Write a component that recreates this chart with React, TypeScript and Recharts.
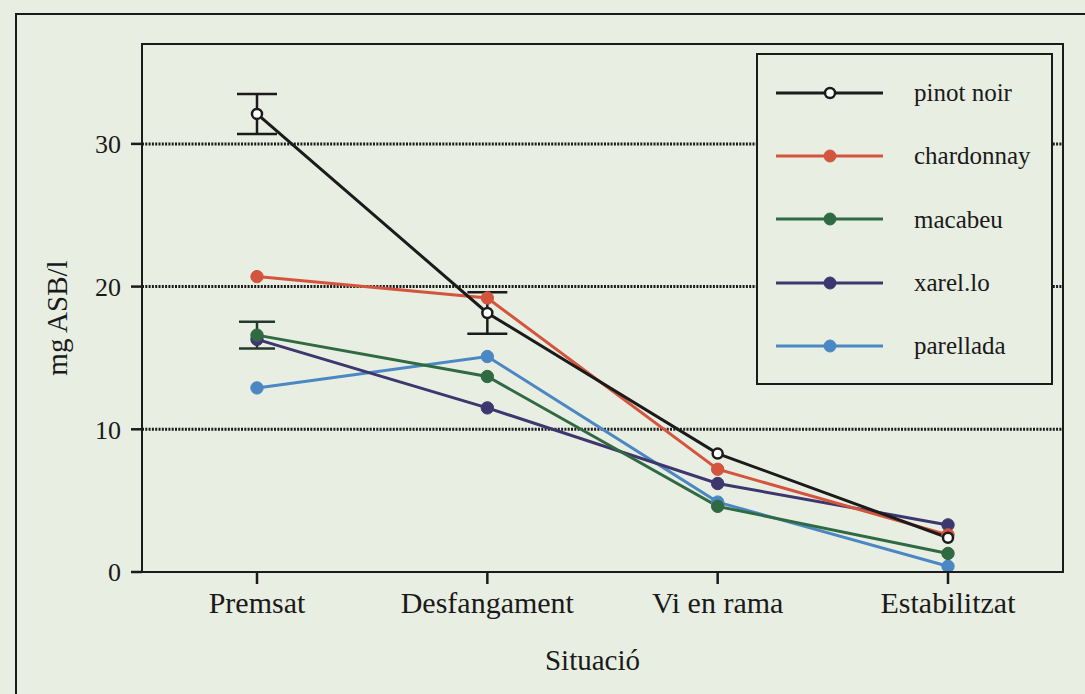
import React from "react";
import {
  LineChart,
  Line,
  XAxis,
  YAxis,
  CartesianGrid,
  ErrorBar,
  Legend,
} from "recharts";

// Stages of the process
const stages = ["Premsat", "Desfangament", "Vi en rama", "Estabilitzat"];

// mg ASB/l per variety at each stage
const pinotNoir = [32.1, 18.15, 8.3, 2.4];
const chardonnay = [20.7, 19.2, 7.2, 2.6];
const macabeu = [16.6, 13.7, 4.6, 1.3];
const xarello = [16.3, 11.5, 6.2, 3.3];
const parellada = [12.9, 15.1, 4.9, 0.4];

// standard deviations (only where measured)
const pinotNoirErr = [1.4, 1.45, null, null];
const macabeuErr = [0.93, null, null, null];

const yTicks = [0, 10, 20, 30];
const gridValues = [10, 20, 30];

const INK = "#1b1b1b";
const TEXT = "#1a1a1a";
const PAPER = "#e9eee2";
const FONT = "'Liberation Serif', 'DejaVu Serif', serif";

const MARGIN = { top: 44, right: 22, left: 30, bottom: 12 };
const Y_AXIS_W = 112;
const X_AXIS_H = 110;
const W = 1085;
const H = 694;

const series = [
  { key: "pinot", name: "pinot noir", color: INK, open: true },
  { key: "chardonnay", name: "chardonnay", color: "#d4553d", open: false },
  { key: "macabeu", name: "macabeu", color: "#2f6a43", open: false },
  { key: "xarello", name: "xarel.lo", color: "#3e366f", open: false },
  { key: "parellada", name: "parellada", color: "#4b88c3", open: false },
];

const data = stages.map((stage, i) => ({
  stage,
  pinot: pinotNoir[i],
  chardonnay: chardonnay[i],
  macabeu: macabeu[i],
  xarello: xarello[i],
  parellada: parellada[i],
  pinotErr: pinotNoirErr[i],
  macabeuErr: macabeuErr[i],
}));

function LegendBox() {
  return (
    <div
      style={{
        boxSizing: "border-box",
        width: 297,
        height: 332,
        border: `2.5px solid ${INK}`,
        background: PAPER,
        paddingTop: 6,
      }}
    >
      {series.map((s) => (
        <div
          key={s.key}
          style={{ display: "flex", alignItems: "center", height: 63.3 }}
        >
          <svg width={150} height={20} style={{ marginLeft: 18 }}>
            <line x1={0} y1={10} x2={107} y2={10} stroke={s.color} strokeWidth={3} />
            <circle
              cx={54}
              cy={10}
              r={s.open ? 5 : 6}
              fill={s.open ? "#ffffff" : s.color}
              stroke={s.color}
              strokeWidth={s.open ? 2.5 : 1}
            />
          </svg>
          <span
            style={{
              fontFamily: FONT,
              fontSize: 25,
              color: TEXT,
              marginLeft: -12,
              lineHeight: 1,
            }}
          >
            {s.name}
          </span>
        </div>
      ))}
    </div>
  );
}

function YLabel(props: any) {
  const { viewBox } = props;
  const cx = viewBox.x + 27;
  const cy = viewBox.y + viewBox.height / 2 + 10;
  return (
    <text
      x={cx}
      y={cy}
      transform={`rotate(-90 ${cx} ${cy})`}
      textAnchor="middle"
      dominantBaseline="central"
      fontFamily={FONT}
      fontSize={29}
      fill={TEXT}
    >
      mg ASB/l
    </text>
  );
}

export default function App() {
  const plotLeft = MARGIN.left + Y_AXIS_W;
  const plotTop = MARGIN.top;
  const plotW = W - plotLeft - MARGIN.right;
  const plotH = H - MARGIN.top - MARGIN.bottom - X_AXIS_H;

  return (
    <div
      style={{
        position: "relative",
        width: W,
        height: H,
        overflow: "hidden",
        background: PAPER,
      }}
    >
      <style>{"body{margin:0}"}</style>
      {/* page frame */}
      <div
        style={{
          position: "absolute",
          left: 15,
          top: 13,
          width: 2000,
          height: 2000,
          borderTop: `2.5px solid ${INK}`,
          borderLeft: `2.5px solid ${INK}`,
        }}
      />
      <div style={{ position: "absolute", left: 0, top: 0 }}>
        <LineChart
          width={W}
          height={H}
          data={data}
          margin={MARGIN}
          style={{ fontFamily: FONT }}
        >
          <CartesianGrid
            horizontal={true}
            vertical={false}
            horizontalValues={gridValues}
            stroke={INK}
            strokeWidth={3}
            strokeDasharray="2 1.3"
          />
          <XAxis
            dataKey="stage"
            scale="point"
            padding={{ left: 115, right: 115 }}
            height={X_AXIS_H}
            axisLine={false}
            tickLine={{ stroke: INK, strokeWidth: 2.5 }}
            tickSize={12}
            tickMargin={8}
            tick={{ fill: TEXT, fontSize: 30, fontFamily: FONT }}
            label={{
              value: "Situació",
              position: "insideBottom",
              offset: 12,
              dx: -10,
              style: { fill: TEXT, fontSize: 29, fontFamily: FONT },
            }}
          />
          <YAxis
            type="number"
            domain={[0, 37]}
            ticks={yTicks}
            width={Y_AXIS_W}
            axisLine={false}
            tickLine={{ stroke: INK, strokeWidth: 2.5 }}
            tickSize={11}
            tickMargin={10}
            tick={{ fill: TEXT, fontSize: 26, fontFamily: FONT }}
            label={<YLabel />}
          />
          <Legend
            layout="vertical"
            align="center"
            verticalAlign="middle"
            wrapperStyle={{ left: 756, top: 53, width: 297 }}
            content={() => <LegendBox />}
          />
          {series
            .slice()
            .reverse()
            .map((s) => (
              <Line
                key={s.key}
                dataKey={s.key}
                name={s.name}
                stroke={s.color}
                strokeWidth={3}
                isAnimationActive={false}
                dot={
                  s.open
                    ? { r: 5, fill: "#ffffff", stroke: s.color, strokeWidth: 2.5 }
                    : { r: 6.2, fill: s.color, stroke: s.color, strokeWidth: 1 }
                }
                activeDot={false}
              >
                {s.key === "pinot" && (
                  <ErrorBar
                    dataKey="pinotErr"
                    width={20}
                    stroke={INK}
                    strokeWidth={2.5}
                    direction="y"
                  />
                )}
                {s.key === "macabeu" && (
                  <ErrorBar
                    dataKey="macabeuErr"
                    width={18}
                    stroke="#223a2a"
                    strokeWidth={2.5}
                    direction="y"
                  />
                )}
              </Line>
            ))}
        </LineChart>
      </div>
      {/* box around the plot area */}
      <div
        style={{
          position: "absolute",
          left: plotLeft - 1.4,
          top: plotTop - 1.4,
          width: plotW + 2.8,
          height: plotH + 2.8,
          boxSizing: "border-box",
          border: `2.8px solid ${INK}`,
          pointerEvents: "none",
        }}
      />
    </div>
  );
}
